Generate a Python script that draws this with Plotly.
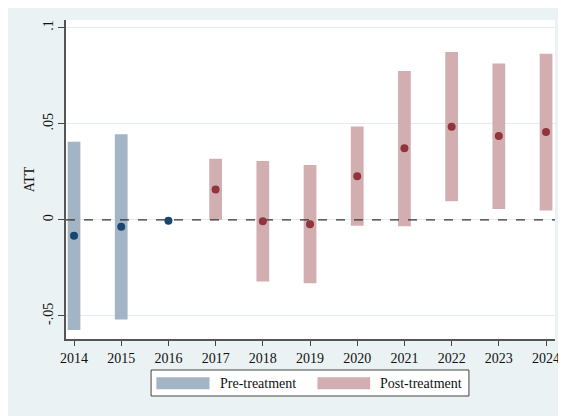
import plotly.graph_objects as go

# Event-study estimates
years = [2014, 2015, 2016, 2017, 2018, 2019, 2020, 2021, 2022, 2023, 2024]
att = [-0.0083, -0.0036, -0.0005, 0.0158, -0.0007, -0.0023, 0.0227, 0.0372, 0.0484, 0.0436, 0.0457]
ci_low = [-0.0573, -0.0519, None, 0.0000, -0.0321, -0.0330, -0.0031, -0.0033, 0.0097, 0.0057, 0.0049]
ci_high = [0.0406, 0.0446, None, 0.0318, 0.0306, 0.0285, 0.0486, 0.0774, 0.0873, 0.0814, 0.0865]
treat_year = 2017

y_ticks = [-0.05, 0, 0.05, 0.1]
y_labels = ["-.05", "0", ".05", ".1"]

pre = [i for i, yr in enumerate(years) if yr < treat_year]
post = [i for i, yr in enumerate(years) if yr >= treat_year]

BAR_BLUE = "#A3B5C5"
BAR_RED = "#D3AEB1"
PT_BLUE = "#1A476F"
PT_RED = "#90353B"
BG = "#EAF2F3"

x_range = [2013.83, 2024.19]

fig = go.Figure()


def ci_bars(idx, color):
    xs = [years[i] for i in idx if ci_low[i] is not None]
    lo = [ci_low[i] for i in idx if ci_low[i] is not None]
    hi = [ci_high[i] for i in idx if ci_low[i] is not None]
    return go.Bar(x=xs, y=[h - l for h, l in zip(hi, lo)], base=lo,
                  width=0.27, marker=dict(color=color, line_width=0),
                  showlegend=False, hoverinfo="skip")


fig.add_trace(ci_bars(pre, BAR_BLUE))
fig.add_trace(ci_bars(post, BAR_RED))

# zero reference line (above the bars, below the points)
fig.add_trace(go.Scatter(x=x_range, y=[0, 0], mode="lines",
                         line=dict(color="#333333", width=1.3, dash="dash"),
                         showlegend=False, hoverinfo="skip"))

fig.add_trace(go.Scatter(x=[years[i] for i in pre], y=[att[i] for i in pre],
                         mode="markers", marker=dict(color=PT_BLUE, size=8),
                         showlegend=False))
fig.add_trace(go.Scatter(x=[years[i] for i in post], y=[att[i] for i in post],
                         mode="markers", marker=dict(color=PT_RED, size=8),
                         showlegend=False))

font = dict(family="Liberation Serif", size=14, color="#111111")

# hand-drawn legend with wide swatches, Stata style
shapes = [
    dict(type="rect", xref="paper", yref="paper", x0=0.174, x1=0.824, y0=-0.1787, y1=-0.0972,
         fillcolor="white", line=dict(color="#444444", width=1)),
    dict(type="rect", xref="paper", yref="paper", x0=0.1848, x1=0.2935, y0=-0.1577, y1=-0.1200,
         fillcolor=BAR_BLUE, line_width=0),
    dict(type="rect", xref="paper", yref="paper", x0=0.5142, x1=0.6220, y0=-0.1577, y1=-0.1200,
         fillcolor=BAR_RED, line_width=0),
]

annotations = [
    dict(text="Pre-treatment", xref="paper", yref="paper", x=0.3117, y=-0.1385,
         xanchor="left", yanchor="middle", showarrow=False, font=font),
    dict(text="Post-treatment", xref="paper", yref="paper", x=0.6390, y=-0.1385,
         xanchor="left", yanchor="middle", showarrow=False, font=font),
]

fig.update_layout(
    width=558, height=408,
    margin=dict(l=58, r=6, t=12, b=77),
    paper_bgcolor=BG, plot_bgcolor="white",
    font=font,
    barmode="overlay",
    shapes=shapes,
    annotations=annotations,
    showlegend=False,
    xaxis=dict(range=x_range, tickvals=years, ticks="outside", ticklen=5,
               tickcolor="#444444", showgrid=False, showline=True,
               linecolor="#555555", linewidth=1.5, zeroline=False, tickfont=font),
    yaxis=dict(range=[-0.062, 0.104], tickvals=y_ticks, ticktext=y_labels,
               tickangle=-90, ticks="outside", ticklen=6, tickcolor="#444444",
               showgrid=True, gridcolor="#E3ECEE", gridwidth=1, showline=True,
               linecolor="#555555", linewidth=1.5, zeroline=False, tickfont=font,
               title=dict(text="ATT", font=font, standoff=3)),
)

fig.write_html("out.html")
